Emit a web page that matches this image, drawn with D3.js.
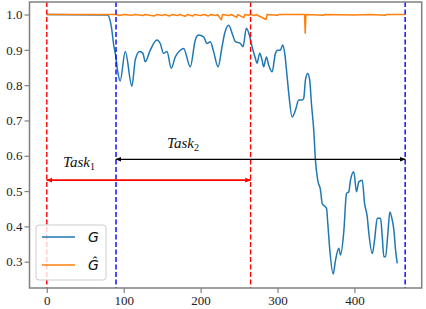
<!DOCTYPE html>
<html>
<head>
<meta charset="utf-8">
<title>G vs G-hat</title>
<script src="https://d3js.org/d3.v7.min.js"></script>
<style>
  body { margin: 0; background: #fff; }
</style>
</head>
<body>
<script>
// G (blue)
var gX = [0, 78.9, 84.6, 86.7, 89.8, 91.9, 95.4, 102.0, 110.7, 115.0, 120.6, 125.0, 128.0, 134.5, 143.2, 147.5,
  151.8, 156.3, 161.8, 167.1, 173.6, 177.9, 186.6, 193.1, 197.4, 203.9, 208.3, 212.6, 216.9, 222.7, 227.9,
  231.3, 236.5, 241.7, 245.2, 251.7, 255.2, 259.5, 263.4, 266.9, 271.2, 273.4, 276.8, 279.9, 282.0, 285.5,
  288.5, 293.0, 297.3, 300.3, 303.8, 306.8, 309.4, 312.5, 314.6, 319.0, 323.3, 327.6, 332.0, 334.1, 336.3,
  339.3, 341.9, 344.1, 347.1, 349.3, 352.3, 355.9, 358.1, 363.7, 365.4, 368.0, 372.4, 375.4, 379.7, 381.9,
  386.2, 389.7, 392.7, 394.9, 399.2, 402.7, 405.7, 410.2, 413.2, 416.7, 418.8, 423.2, 426.2, 429.7, 434.0,
  436.2, 438.3, 440.5, 443.5, 446.1, 449.2, 451.3, 453.5, 455.7];
var gY = [1.0, 0.999, 0.956, 0.918, 0.880, 0.843, 0.812, 0.895, 0.797, 0.871, 0.895, 0.890, 0.866, 0.899, 0.928, 0.918,
  0.890, 0.895, 0.848, 0.880, 0.899, 0.904, 0.852, 0.928, 0.942, 0.937, 0.918, 0.923, 0.895, 0.852, 0.909,
  0.947, 0.970, 0.942, 0.923, 0.918, 0.909, 0.961, 0.942, 0.909, 0.876, 0.862, 0.890, 0.871, 0.852, 0.880,
  0.857, 0.838, 0.890, 0.899, 0.899, 0.914, 0.890, 0.824, 0.777, 0.710, 0.729, 0.758, 0.758, 0.763, 0.814,
  0.833, 0.814, 0.748, 0.673, 0.588, 0.531, 0.503, 0.465, 0.451, 0.408, 0.333, 0.265, 0.304, 0.338, 0.319,
  0.385, 0.493, 0.498, 0.531, 0.555, 0.498, 0.526, 0.531, 0.465, 0.427, 0.380, 0.323, 0.361, 0.423, 0.423,
  0.371, 0.314, 0.314, 0.380, 0.441, 0.418, 0.390, 0.333, 0.295];

// G-hat (orange)
var hX = [0, 90, 95, 100, 110, 115, 125, 128, 140, 143, 150, 153, 160, 163, 170, 173, 180, 183, 190, 192,
  200, 205, 210, 213, 220, 222, 227, 228.5, 237, 240, 247, 248.5, 256, 257.5, 262, 265, 270, 272, 285, 286.5,
  300, 302, 335.2, 336, 337, 360, 362, 400, 420, 440, 442, 466];
var hY = [1.0, 1.0, 0.997, 1.0, 0.998, 1.0, 0.997, 1.0, 0.996, 1.0, 0.997, 1.0, 0.996, 1.0, 0.997, 1.0, 0.995, 1.0, 0.996, 1.0,
  0.997, 1.0, 0.996, 1.0, 0.997, 1.0, 0.985, 1.0, 0.997, 1.0, 0.992, 1.0, 0.991, 1.0, 0.998, 1.0, 0.997, 1.0, 0.986, 1.0,
  0.998, 1.0, 1.0, 0.947, 1.0, 0.998, 1.0, 0.999, 1.0, 0.998, 1.0, 1.0];

var xTicks = [0, 100, 200, 300, 400];
var yTicks = [0.3, 0.4, 0.5, 0.6, 0.7, 0.8, 0.9, 1.0];
var redLines = [0, 265];
var blueLines = [90, 466];
var task1 = [0, 265, 0.531];
var task2 = [90, 466, 0.59];

var width = 426, height = 309;
var mLeft = 29.5, mRight = 421.7, mTop = 2, mBottom = 288;

var svg = d3.select("body").append("svg")
  .attr("width", width)
  .attr("height", height);

var x = d3.scaleLinear().domain([-22.5, 487.5]).range([mLeft, mRight]);
var y = d3.scaleLinear().domain([0.2255, 1.0355]).range([mBottom, mTop]);

var defs = svg.append("defs");
function head(id, color) {
  defs.append("marker")
    .attr("id", id)
    .attr("viewBox", "0 0 10 10")
    .attr("refX", 9).attr("refY", 5)
    .attr("markerWidth", 6).attr("markerHeight", 6)
    .attr("markerUnits", "userSpaceOnUse")
    .attr("orient", "auto-start-reverse")
    .append("path")
    .attr("d", "M0,1 L10,5 L0,9 z")
    .attr("fill", color);
}
head("hRed", "red");
head("hBlack", "black");

var smooth = d3.line().curve(d3.curveMonotoneX)
  .x(function(d) { return x(d[0]); }).y(function(d) { return y(d[1]); });
var line = d3.line().x(function(d) { return x(d[0]); }).y(function(d) { return y(d[1]); });

svg.append("path")
  .datum(d3.zip(gX, gY))
  .attr("fill", "none")
  .attr("stroke", "#1f77b4")
  .attr("stroke-width", 1.5)
  .attr("stroke-linejoin", "round")
  .attr("d", smooth);

svg.append("path")
  .datum(d3.zip(hX, hY))
  .attr("fill", "none")
  .attr("stroke", "#ff7f0e")
  .attr("stroke-width", 1.5)
  .attr("stroke-linejoin", "round")
  .attr("d", line);

// vertical dashed lines
svg.selectAll(".vred").data(redLines).enter().append("line")
  .attr("x1", function(d) { return x(d); }).attr("x2", function(d) { return x(d); })
  .attr("y1", mTop).attr("y2", mBottom)
  .attr("stroke", "red").attr("stroke-width", 1.4)
  .attr("stroke-dasharray", "5,2.5");

svg.selectAll(".vblue").data(blueLines).enter().append("line")
  .attr("x1", function(d) { return x(d); }).attr("x2", function(d) { return x(d); })
  .attr("y1", mTop).attr("y2", mBottom)
  .attr("stroke", "blue").attr("stroke-width", 1.4)
  .attr("stroke-dasharray", "5,2.5");

// task arrows
svg.append("line")
  .attr("x1", x(task1[0])).attr("x2", x(task1[1]))
  .attr("y1", y(task1[2])).attr("y2", y(task1[2]))
  .attr("stroke", "red").attr("stroke-width", 1.8)
  .attr("marker-start", "url(#hRed)").attr("marker-end", "url(#hRed)");

svg.append("line")
  .attr("x1", x(task2[0])).attr("x2", x(task2[1]))
  .attr("y1", y(task2[2])).attr("y2", y(task2[2]))
  .attr("stroke", "black").attr("stroke-width", 1.3)
  .attr("marker-start", "url(#hBlack)").attr("marker-end", "url(#hBlack)");

function taskLabel(px, py, sub) {
  var t = svg.append("text")
    .attr("x", px).attr("y", py)
    .attr("font-family", "Liberation Serif, serif")
    .attr("font-style", "italic")
    .attr("font-size", 15)
    .attr("fill", "#111");
  t.append("tspan").text("Task");
  t.append("tspan").attr("dy", 3).attr("font-size", 10).attr("font-style", "normal").text(sub);
}
taskLabel(63, 167, "1");
taskLabel(167, 148, "2");

// axes frame
svg.append("rect")
  .attr("x", mLeft).attr("y", mTop)
  .attr("width", mRight - mLeft).attr("height", mBottom - mTop)
  .attr("fill", "none").attr("stroke", "#808080").attr("stroke-width", 1.5);

var xAxis = svg.append("g")
  .attr("transform", "translate(0," + mBottom + ")")
  .call(d3.axisBottom(x).tickValues(xTicks).tickSizeOuter(0).tickSize(5).tickPadding(3));
var yAxis = svg.append("g")
  .attr("transform", "translate(" + mLeft + ",0)")
  .call(d3.axisLeft(y).tickValues(yTicks).tickFormat(d3.format(".1f")).tickSizeOuter(0).tickSize(5).tickPadding(2));
[xAxis, yAxis].forEach(function(a) {
  a.select(".domain").remove();
  a.selectAll(".tick line").attr("stroke", "#808080").attr("stroke-width", 1.2);
  a.selectAll(".tick text")
    .attr("font-family", "Liberation Serif, serif")
    .attr("font-size", 13)
    .attr("fill", "#222");
});

// legend
var lg = svg.append("g");
lg.append("rect")
  .attr("x", 36).attr("y", 225).attr("width", 70).attr("height", 55)
  .attr("rx", 3).attr("fill", "white").attr("fill-opacity", 0.8)
  .attr("stroke", "#cccccc").attr("stroke-width", 1);
var legItems = [["G", "#1f77b4"], ["\u011c", "#ff7f0e"]];
legItems.forEach(function(d, i) {
  var ly = 237 + i * 28;
  lg.append("line").attr("x1", 42).attr("x2", 75).attr("y1", ly).attr("y2", ly)
    .attr("stroke", d[1]).attr("stroke-width", 1.5);
  lg.append("text").attr("x", 88).attr("y", ly + 5)
    .attr("font-family", "DejaVu Sans, sans-serif").attr("font-style", "italic")
    .attr("font-size", 14).attr("fill", "#111").text(d[0]);
});
</script>
</body>
</html>
